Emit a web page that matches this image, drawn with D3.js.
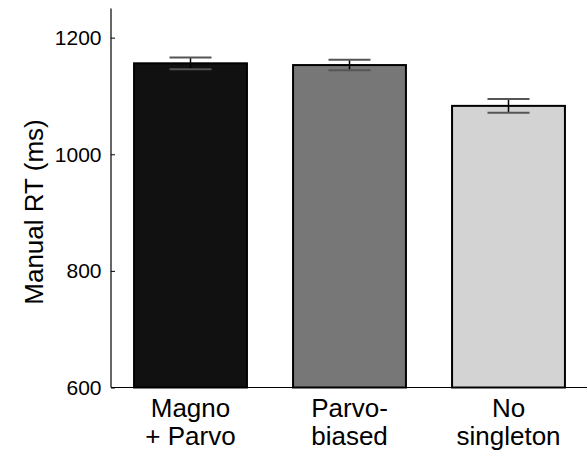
<!DOCTYPE html>
<html lang="en">
<head>
<meta charset="utf-8">
<title>Manual RT</title>
<style>
    body { margin: 0; background: #fff; }
    svg text { font-family: "Liberation Sans", Arial, Helvetica, sans-serif; fill: #000; }
</style>
</head>
<body>
<svg id="chart" width="587" height="451"></svg>
<script src="https://d3js.org/d3.v7.min.js"></script>
<script>
    // data
    var categories = ["Magno + Parvo", "Parvo- biased", "No singleton"];
    var labelLines = [["Magno", "+ Parvo"], ["Parvo-", "biased"], ["No", "singleton"]];
    var rtMeans = [1156, 1153, 1083];
    var rtErrors = [10, 9, 12];
    var barColors = ["#111111", "#777777", "#d3d3d3"];
    var yTicks = [600, 800, 1000, 1200];

    var svg = d3.select("#chart");
    var plotLeft = 111, plotRight = 588, plotTop = 8.5, plotBottom = 387.5;

    var x = d3.scaleBand()
        .domain(categories)
        .range([plotLeft, plotRight])
        .paddingInner(0.29)
        .paddingOuter(0.145);

    var y = d3.scaleLinear()
        .domain([600, 1250])
        .range([plotBottom, plotTop]);

    var rows = categories.map(function(c, i) {
        return { cat: c, mean: rtMeans[i], err: rtErrors[i], color: barColors[i], lines: labelLines[i] };
    });

    // bars
    svg.selectAll(".bar")
        .data(rows)
        .enter().append("rect")
        .attr("class", "bar")
        .attr("x", d => x(d.cat))
        .attr("y", d => y(d.mean))
        .attr("width", x.bandwidth())
        .attr("height", d => plotBottom - y(d.mean))
        .attr("fill", d => d.color)
        .attr("stroke", "#000")
        .attr("stroke-width", 2);

    // error bars
    var capW = 42;
    var eb = svg.selectAll(".err")
        .data(rows)
        .enter().append("g")
        .attr("class", "err")
        .attr("transform", d => "translate(" + (x(d.cat) + x.bandwidth() / 2) + ",0)");
    eb.append("line")
        .attr("y1", d => y(d.mean + d.err))
        .attr("y2", d => y(d.mean - d.err))
        .attr("stroke", "#000")
        .attr("stroke-width", 1.5);
    eb.selectAll(".cap")
        .data(d => [d.mean + d.err, d.mean - d.err])
        .enter().append("line")
        .attr("class", "cap")
        .attr("x1", -capW / 2)
        .attr("x2", capW / 2)
        .attr("y1", v => y(v))
        .attr("y2", v => y(v))
        .attr("stroke", "#555")
        .attr("stroke-width", 2);

    // y axis (ticks point inward)
    var yAxis = d3.axisRight(y).tickValues(yTicks).tickSize(4).tickFormat(d3.format("d"));
    var yg = svg.append("g")
        .attr("transform", "translate(" + plotLeft + ",0)")
        .call(yAxis)
        .attr("font-size", null)
        .attr("font-family", null);
    yg.select(".domain").remove();
    yg.selectAll("line").attr("stroke", "#000").attr("stroke-width", 1);
    yg.selectAll("text")
        .attr("x", -9.5)
        .attr("text-anchor", "end")
        .style("font-size", "21px");
    svg.append("line")
        .attr("x1", plotLeft).attr("x2", plotLeft)
        .attr("y1", plotTop).attr("y2", plotBottom)
        .attr("stroke", "#000").attr("stroke-width", 1.2);

    // x axis line
    svg.append("line")
        .attr("x1", plotLeft).attr("x2", 587)
        .attr("y1", plotBottom).attr("y2", plotBottom)
        .attr("stroke", "#000").attr("stroke-width", 1.2);

    // category labels
    var lab = svg.selectAll(".xlab")
        .data(rows)
        .enter().append("text")
        .attr("class", "xlab")
        .attr("text-anchor", "middle")
        .style("font-size", "26px")
        .attr("transform", d => "translate(" + (x(d.cat) + x.bandwidth() / 2) + ",417)");
    lab.selectAll("tspan")
        .data(d => d.lines)
        .enter().append("tspan")
        .attr("x", 0)
        .attr("y", (t, i) => i * 28)
        .text(t => t);

    // y title
    svg.append("text")
        .attr("transform", "translate(43,212) rotate(-90)")
        .attr("text-anchor", "middle")
        .style("font-size", "26px")
        .text("Manual RT (ms)");
</script>
</body>
</html>
